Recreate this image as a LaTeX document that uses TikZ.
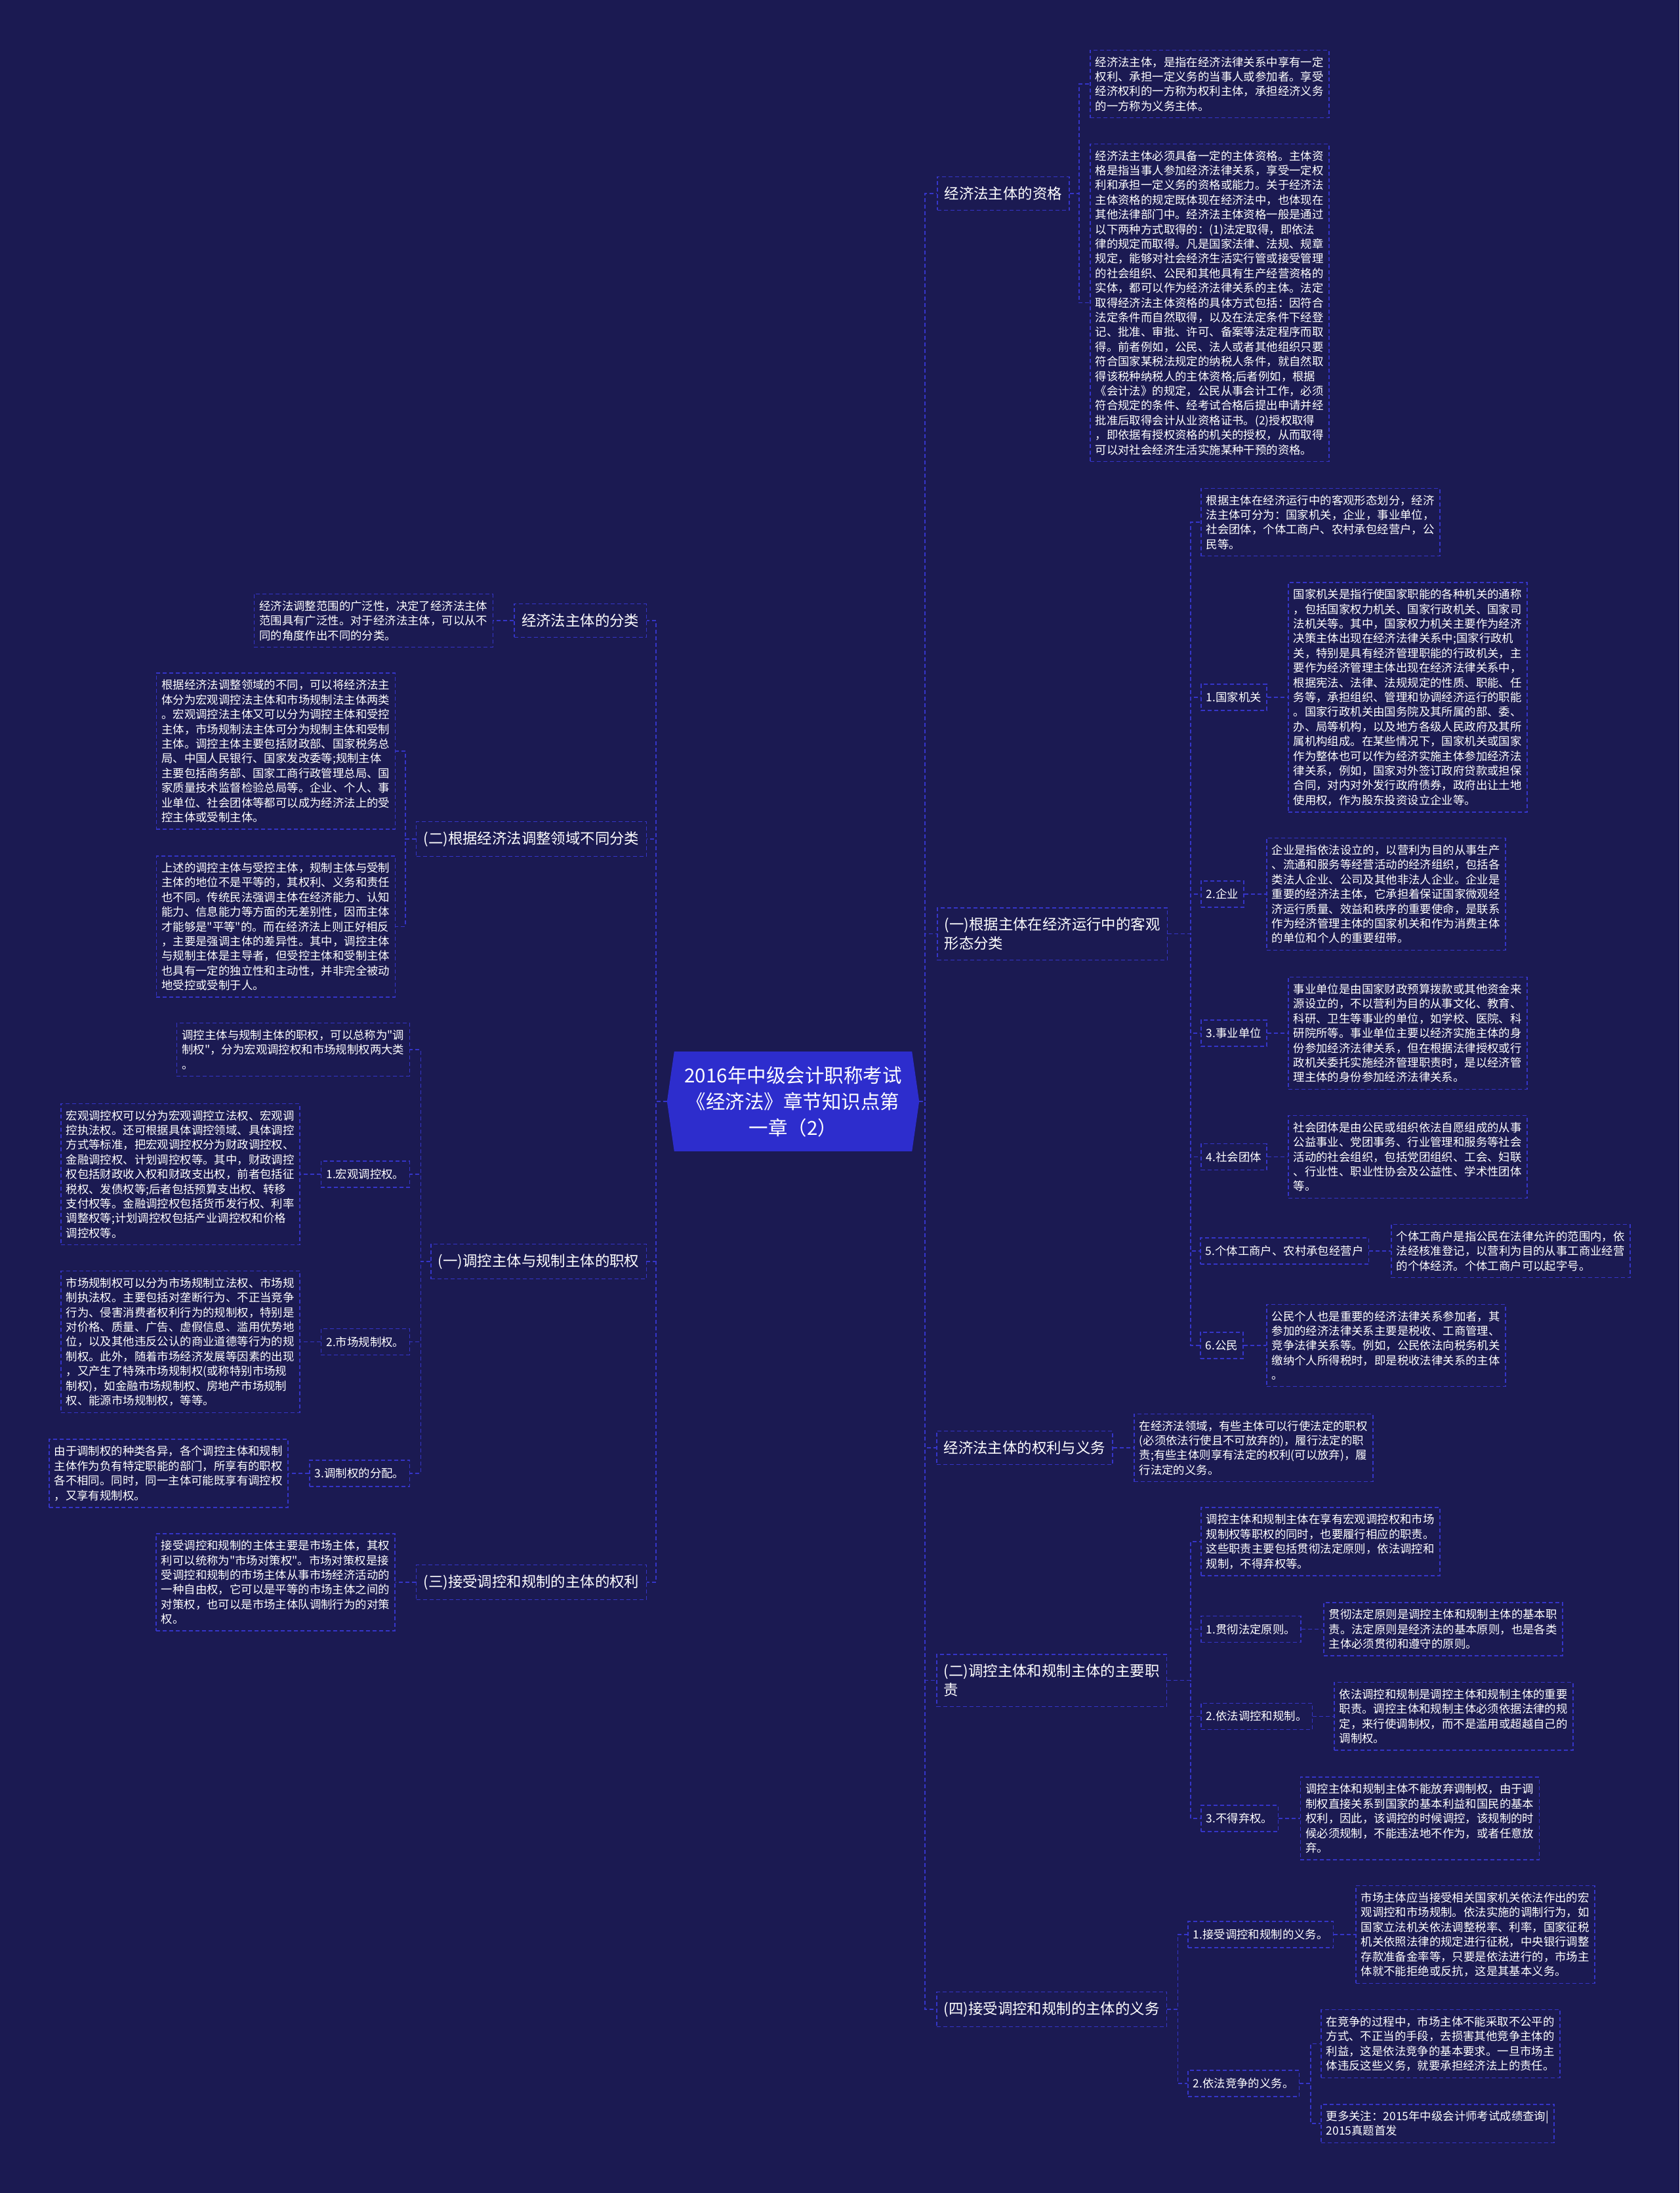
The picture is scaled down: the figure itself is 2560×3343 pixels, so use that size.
\documentclass[tikz,border=0pt]{standalone}
\usepackage{fontspec}
\newfontfamily\cjk{Noto Sans CJK SC}
\definecolor{bgc}{HTML}{1B1A52}
\definecolor{linec}{HTML}{3535C8}
\definecolor{rootc}{HTML}{2D2DCD}
\pgfdeclarelayer{bg}
\pgfsetlayers{bg,main}
\begin{document}
\begin{tikzpicture}[x=1pt,y=-1pt,
  conn/.style={draw=linec, line width=1.5pt, dash pattern=on 6pt off 4pt},
  dbox/.style={draw=linec, line width=1.5pt, dash pattern=on 6pt off 4pt, text=white, align=left},
  leafbox/.style={dbox, font=\cjk\fontsize{17.4}{22.4}\selectfont, inner xsep=8pt, inner ysep=10pt},
  labbox/.style={leafbox, minimum height=40pt},
  mainbox/.style={dbox, font=\cjk\fontsize{22.4}{28.7}\selectfont, inner xsep=11pt, inner ysep=15pt},
  rootnode/.style={text=white, align=center, font=\cjk\fontsize{29.5}{40}\selectfont, minimum width=362pt, minimum height=152pt, inner sep=0pt}
]
\begin{pgfonlayer}{bg}
\fill[bgc] (0,0) rectangle (2560,3343);
\end{pgfonlayer}
\useasboundingbox (0,0) rectangle (2560,3343);

% spine coordinates
\coordinate (sR) at (1410,0);
\coordinate (sL) at (1000,0);
\coordinate (s1) at (1645,0);
\coordinate (s2) at (1815,0);
\coordinate (s5) at (1795.5,0);
\coordinate (s5b) at (1998,0);
\coordinate (t2) at (618,0);
\coordinate (t3) at (641.5,0);

% root
\node[rootnode] (root) at (1209,1679) {2016年中级会计职称考试\\《经济法》章节知识点第\\一章（2）};
\begin{pgfonlayer}{bg}
\fill[rootc] (root.north west) -- (root.north east) -- ([xshift=11pt]root.east) -- (root.south east) -- (root.south west) -- ([xshift=-11pt]root.west) -- cycle;
\end{pgfonlayer}

% ===== right side =====
\node[mainbox, anchor=west] (R1) at (1428,295) {经济法主体的资格};
\node[leafbox, anchor=west] (R1a) at (1661,128) {经济法主体，是指在经济法律关系中享有一定\\权利、承担一定义务的当事人或参加者。享受\\经济权利的一方称为权利主体，承担经济义务\\的一方称为义务主体。};
\node[leafbox, anchor=west] (R1b) at (1661,461.5) {经济法主体必须具备一定的主体资格。主体资\\格是指当事人参加经济法律关系，享受一定权\\利和承担一定义务的资格或能力。关于经济法\\主体资格的规定既体现在经济法中，也体现在\\其他法律部门中。经济法主体资格一般是通过\\以下两种方式取得的：(1)法定取得，即依法\\律的规定而取得。凡是国家法律、法规、规章\\规定，能够对社会经济生活实行管或接受管理\\的社会组织、公民和其他具有生产经营资格的\\实体，都可以作为经济法律关系的主体。法定\\取得经济法主体资格的具体方式包括：因符合\\法定条件而自然取得，以及在法定条件下经登\\记、批准、审批、许可、备案等法定程序而取\\得。前者例如，公民、法人或者其他组织只要\\符合国家某税法规定的纳税人条件，就自然取\\得该税种纳税人的主体资格;后者例如，根据\\《会计法》的规定，公民从事会计工作，必须\\符合规定的条件、经考试合格后提出申请并经\\批准后取得会计从业资格证书。(2)授权取得\\，即依据有授权资格的机关的授权，从而取得\\可以对社会经济生活实施某种干预的资格。};

\node[mainbox, anchor=west] (R2) at (1428,1423.6) {(一)根据主体在经济运行中的客观\\形态分类};
\node[leafbox, anchor=west] (R2a) at (1830,796) {根据主体在经济运行中的客观形态划分，经济\\法主体可分为：国家机关，企业，事业单位，\\社会团体，个体工商户、农村承包经营户，公\\民等。};
\node[labbox, anchor=west] (R2b) at (1830,1063) {1.国家机关};
\node[leafbox, anchor=west] (R2b1) at (1963,1063) {国家机关是指行使国家职能的各种机关的通称\\，包括国家权力机关、国家行政机关、国家司\\法机关等。其中，国家权力机关主要作为经济\\决策主体出现在经济法律关系中;国家行政机\\关，特别是具有经济管理职能的行政机关，主\\要作为经济管理主体出现在经济法律关系中，\\根据宪法、法律、法规规定的性质、职能、任\\务等，承担组织、管理和协调经济运行的职能\\。国家行政机关由国务院及其所属的部、委、\\办、局等机构，以及地方各级人民政府及其所\\属机构组成。在某些情况下，国家机关或国家\\作为整体也可以作为经济实施主体参加经济法\\律关系，例如，国家对外签订政府贷款或担保\\合同，对内对外发行政府债券，政府出让土地\\使用权，作为股东投资设立企业等。};
\node[labbox, anchor=west] (R2c) at (1830,1363) {2.企业};
\node[leafbox, anchor=west] (R2c1) at (1930,1363) {企业是指依法设立的，以营利为目的从事生产\\、流通和服务等经营活动的经济组织，包括各\\类法人企业、公司及其他非法人企业。企业是\\重要的经济法主体，它承担着保证国家微观经\\济运行质量、效益和秩序的重要使命，是联系\\作为经济管理主体的国家机关和作为消费主体\\的单位和个人的重要纽带。};
\node[labbox, anchor=west] (R2d) at (1830,1575) {3.事业单位};
\node[leafbox, anchor=west] (R2d1) at (1963,1575) {事业单位是由国家财政预算拨款或其他资金来\\源设立的，不以营利为目的从事文化、教育、\\科研、卫生等事业的单位，如学校、医院、科\\研院所等。事业单位主要以经济实施主体的身\\份参加经济法律关系，但在根据法律授权或行\\政机关委托实施经济管理职责时，是以经济管\\理主体的身份参加经济法律关系。};
\node[labbox, anchor=west] (R2e) at (1830,1763.5) {4.社会团体};
\node[leafbox, anchor=west] (R2e1) at (1963,1763.5) {社会团体是由公民或组织依法自愿组成的从事\\公益事业、党团事务、行业管理和服务等社会\\活动的社会组织，包括党团组织、工会、妇联\\、行业性、职业性协会及公益性、学术性团体\\等。};
\node[labbox, anchor=west] (R2f) at (1829,1907) {5.个体工商户、农村承包经营户};
\node[leafbox, anchor=west] (R2f1) at (2120,1907) {个体工商户是指公民在法律允许的范围内，依\\法经核准登记，以营利为目的从事工商业经营\\的个体经济。个体工商户可以起字号。};
\node[labbox, anchor=west] (R2g) at (1829,2051) {6.公民};
\node[leafbox, anchor=west] (R2g1) at (1930,2051) {公民个人也是重要的经济法律关系参加者，其\\参加的经济法律关系主要是税收、工商管理、\\竞争法律关系等。例如，公民依法向税务机关\\缴纳个人所得税时，即是税收法律关系的主体\\。};

\node[mainbox, anchor=west] (R3) at (1427,2207) {经济法主体的权利与义务};
\node[leafbox, anchor=west] (R3a) at (1728,2207) {在经济法领域，有些主体可以行使法定的职权\\(必须依法行使且不可放弃的)，履行法定的职\\责;有些主体则享有法定的权利(可以放弃)，履\\行法定的义务。};

\node[mainbox, anchor=west] (R4) at (1427,2561.5) {(二)调控主体和规制主体的主要职\\责};
\node[leafbox, anchor=west] (R4a) at (1830,2350) {调控主体和规制主体在享有宏观调控权和市场\\规制权等职权的同时，也要履行相应的职责。\\这些职责主要包括贯彻法定原则，依法调控和\\规制，不得弃权等。};
\node[labbox, anchor=west] (R4b) at (1830,2483.5) {1.贯彻法定原则。};
\node[leafbox, anchor=west] (R4b1) at (2017,2483.5) {贯彻法定原则是调控主体和规制主体的基本职\\责。法定原则是经济法的基本原则，也是各类\\主体必须贯彻和遵守的原则。};
\node[labbox, anchor=west] (R4c) at (1830,2616.3) {2.依法调控和规制。};
\node[leafbox, anchor=west] (R4c1) at (2033,2616.3) {依法调控和规制是调控主体和规制主体的重要\\职责。调控主体和规制主体必须依据法律的规\\定，来行使调制权，而不是滥用或超越自己的\\调制权。};
\node[labbox, anchor=west] (R4d) at (1830,2772) {3.不得弃权。};
\node[leafbox, anchor=west] (R4d1) at (1981.5,2772) {调控主体和规制主体不能放弃调制权，由于调\\制权直接关系到国家的基本利益和国民的基本\\权利，因此，该调控的时候调控，该规制的时\\候必须规制，不能违法地不作为，或者任意放\\弃。};

\node[mainbox, anchor=west] (R5) at (1427,3063) {(四)接受调控和规制的主体的义务};
\node[labbox, anchor=west] (R5a) at (1810,2949) {1.接受调控和规制的义务。};
\node[leafbox, anchor=west] (R5a1) at (2066,2949) {市场主体应当接受相关国家机关依法作出的宏\\观调控和市场规制。依法实施的调制行为，如\\国家立法机关依法调整税率、利率，国家征税\\机关依照法律的规定进行征税，中央银行调整\\存款准备金率等，只要是依法进行的，市场主\\体就不能拒绝或反抗，这是其基本义务。};
\node[labbox, anchor=west] (R5b) at (1810,3176) {2.依法竞争的义务。};
\node[leafbox, anchor=west] (R5b1) at (2013,3115.5) {在竞争的过程中，市场主体不能采取不公平的\\方式、不正当的手段，去损害其他竞争主体的\\利益，这是依法竞争的基本要求。一旦市场主\\体违反这些义务，就要承担经济法上的责任。};
\node[leafbox, anchor=west] (R5b2) at (2013,3237) {更多关注：2015年中级会计师考试成绩查询|\\2015真题首发};

% ===== left side =====
\node[mainbox, anchor=east] (L1) at (986,946) {经济法主体的分类};
\node[leafbox, anchor=east] (L1a) at (752,946) {经济法调整范围的广泛性，决定了经济法主体\\范围具有广泛性。对于经济法主体，可以从不\\同的角度作出不同的分类。};

\node[mainbox, anchor=east] (L2) at (986,1279) {(二)根据经济法调整领域不同分类};
\node[leafbox, anchor=east] (L2a) at (603,1145) {根据经济法调整领域的不同，可以将经济法主\\体分为宏观调控法主体和市场规制法主体两类\\。宏观调控法主体又可以分为调控主体和受控\\主体，市场规制法主体可分为规制主体和受制\\主体。调控主体主要包括财政部、国家税务总\\局、中国人民银行、国家发改委等;规制主体\\主要包括商务部、国家工商行政管理总局、国\\家质量技术监督检验总局等。企业、个人、事\\业单位、社会团体等都可以成为经济法上的受\\控主体或受制主体。};
\node[leafbox, anchor=east] (L2b) at (603,1412.5) {上述的调控主体与受控主体，规制主体与受制\\主体的地位不是平等的，其权利、义务和责任\\也不同。传统民法强调主体在经济能力、认知\\能力、信息能力等方面的无差别性，因而主体\\才能够是"平等"的。而在经济法上则正好相反\\，主要是强调主体的差异性。其中，调控主体\\与规制主体是主导者，但受控主体和受制主体\\也具有一定的独立性和主动性，并非完全被动\\地受控或受制于人。};

\node[mainbox, anchor=east] (L3) at (986,1923) {(一)调控主体与规制主体的职权};
\node[leafbox, anchor=east] (L3a) at (625,1600) {调控主体与规制主体的职权，可以总称为"调\\制权"，分为宏观调控权和市场规制权两大类\\。};
\node[labbox, anchor=east] (L3b) at (625,1790) {1.宏观调控权。};
\node[leafbox, anchor=east] (L3b1) at (457.5,1790) {宏观调控权可以分为宏观调控立法权、宏观调\\控执法权。还可根据具体调控领域、具体调控\\方式等标准，把宏观调控权分为财政调控权、\\金融调控权、计划调控权等。其中，财政调控\\权包括财政收入权和财政支出权，前者包括征\\税权、发债权等;后者包括预算支出权、转移\\支付权等。金融调控权包括货币发行权、利率\\调整权等;计划调控权包括产业调控权和价格\\调控权等。};
\node[labbox, anchor=east] (L3c) at (625,2045.5) {2.市场规制权。};
\node[leafbox, anchor=east] (L3c1) at (457.5,2045.5) {市场规制权可以分为市场规制立法权、市场规\\制执法权。主要包括对垄断行为、不正当竞争\\行为、侵害消费者权利行为的规制权，特别是\\对价格、质量、广告、虚假信息、滥用优势地\\位，以及其他违反公认的商业道德等行为的规\\制权。此外，随着市场经济发展等因素的出现\\，又产生了特殊市场规制权(或称特别市场规\\制权)，如金融市场规制权、房地产市场规制\\权、能源市场规制权，等等。};
\node[labbox, anchor=east] (L3d) at (625,2246) {3.调制权的分配。};
\node[leafbox, anchor=east] (L3d1) at (439.5,2246) {由于调制权的种类各异，各个调控主体和规制\\主体作为负有特定职能的部门，所享有的职权\\各不相同。同时，同一主体可能既享有调控权\\，又享有规制权。};

\node[mainbox, anchor=east] (L4) at (986,2412) {(三)接受调控和规制的主体的权利};
\node[leafbox, anchor=east] (L4a) at (602.6,2412) {接受调控和规制的主体主要是市场主体，其权\\利可以统称为"市场对策权"。市场对策权是接\\受调控和规制的市场主体从事市场经济活动的\\一种自由权，它可以是平等的市场主体之间的\\对策权，也可以是市场主体队调制行为的对策\\权。};

% ===== connectors =====
\foreach \c in {R1,R2,R3,R4,R5}
  \draw[conn] ([xshift=11pt]root.east) -- (root.east -| sR) |- (\c.west);
\foreach \c in {L1,L2,L3,L4}
  \draw[conn] ([xshift=-11pt]root.west) -- (root.west -| sL) |- (\c.east);

\foreach \c in {R1a,R1b}
  \draw[conn] (R1.east) -- (R1.east -| s1) |- (\c.west);
\foreach \c in {R2a,R2b,R2c,R2d,R2e,R2f,R2g}
  \draw[conn] (R2.east) -- (R2.east -| s2) |- (\c.west);
\draw[conn] (R2b.east) -- (R2b1.west);
\draw[conn] (R2c.east) -- (R2c1.west);
\draw[conn] (R2d.east) -- (R2d1.west);
\draw[conn] (R2e.east) -- (R2e1.west);
\draw[conn] (R2f.east) -- (R2f1.west);
\draw[conn] (R2g.east) -- (R2g1.west);
\draw[conn] (R3.east) -- (R3a.west);
\foreach \c in {R4a,R4b,R4c,R4d}
  \draw[conn] (R4.east) -- (R4.east -| s2) |- (\c.west);
\draw[conn] (R4b.east) -- (R4b1.west);
\draw[conn] (R4c.east) -- (R4c1.west);
\draw[conn] (R4d.east) -- (R4d1.west);
\foreach \c in {R5a,R5b}
  \draw[conn] (R5.east) -- (R5.east -| s5) |- (\c.west);
\draw[conn] (R5a.east) -- (R5a1.west);
\foreach \c in {R5b1,R5b2}
  \draw[conn] (R5b.east) -- (R5b.east -| s5b) |- (\c.west);

\draw[conn] (L1.west) -- (L1a.east);
\foreach \c in {L2a,L2b}
  \draw[conn] (L2.west) -- (L2.west -| t2) |- (\c.east);
\foreach \c in {L3a,L3b,L3c,L3d}
  \draw[conn] (L3.west) -- (L3.west -| t3) |- (\c.east);
\draw[conn] (L3b.west) -- (L3b1.east);
\draw[conn] (L3c.west) -- (L3c1.east);
\draw[conn] (L3d.west) -- (L3d1.east);
\draw[conn] (L4.west) -- (L4a.east);
\end{tikzpicture}
\end{document}
